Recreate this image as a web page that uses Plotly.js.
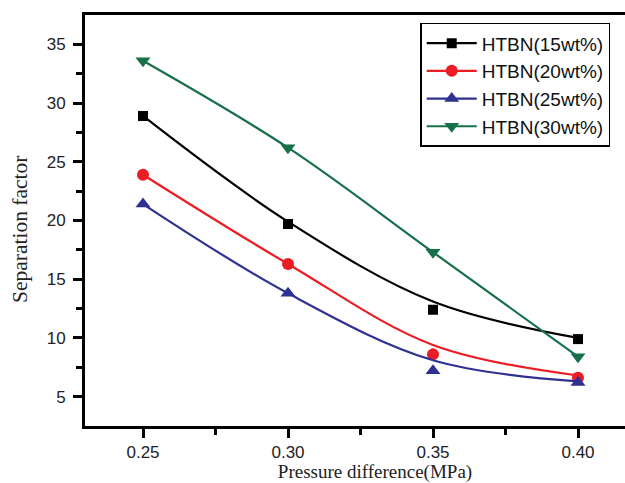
<!DOCTYPE html>
<html>
<head>
<meta charset="utf-8">
<script src="https://cdn.plot.ly/plotly-3.0.1.min.js"></script>
<style>
html,body{margin:0;padding:0;overflow:hidden;background:#fff;}
#chart{width:675px;height:483px;}
</style>
</head>
<body>
<div id="chart"></div>
<script>
// Pressure difference (MPa)
var pressure = [0.25, 0.30, 0.35, 0.40];
// Measured separation factor
var htbn15 = [28.9, 19.7, 12.4, 9.9];
var htbn20 = [23.9, 16.3, 8.6, 6.6];
var htbn25 = [21.4, 13.8, 7.2, 6.2];
var htbn30 = [33.6, 26.2, 17.3, 8.4];
// Fitted curve values
var fit15 = [28.9, 19.9, 13.1, 10.0];
var fit20 = [23.9, 16.3, 9.4, 6.8];
var fit25 = [21.4, 13.8, 8.1, 6.3];
var names = ['HTBN(15wt%)', 'HTBN(20wt%)', 'HTBN(25wt%)', 'HTBN(30wt%)'];
var xTicks = [0.25, 0.30, 0.35, 0.40];
var xTickText = ['0.25', '0.30', '0.35', '0.40'];
var yTicks = [5, 10, 15, 20, 25, 30, 35];

var colors = ['#000000', '#ec1c24', '#2e3192', '#17704a'];
var symbols = ['square', 'circle', 'triangle-up', 'triangle-down'];
var sizes = [10, 12, 13, 13];

var traces = [];
var meas = [htbn15, htbn20, htbn25];
var fits = [fit15, fit20, fit25];
for (var i = 0; i < 3; i++) {
  traces.push({x: pressure, y: fits[i], mode: 'lines', line: {color: colors[i], width: 2.2, shape: 'spline'}, showlegend: false, hoverinfo: 'skip'});
  traces.push({x: pressure, y: meas[i], mode: 'markers', marker: {color: colors[i], symbol: symbols[i], size: sizes[i]}, showlegend: false});
}
traces.push({x: pressure, y: htbn30, mode: 'lines+markers', line: {color: colors[3], width: 2.2, shape: 'spline'}, marker: {color: colors[3], symbol: symbols[3], size: sizes[3]}, showlegend: false});
// legend entries
for (var j = 0; j < 4; j++) {
  traces.push({x: [null], y: [null], name: names[j], mode: 'lines+markers', line: {color: colors[j], width: 2.2}, marker: {color: colors[j], symbol: symbols[j], size: sizes[j]}});
}

var layout = {
  width: 675, height: 483,
  margin: {l: 85, r: 10, t: 15, b: 57},
  paper_bgcolor: '#fff', plot_bgcolor: '#fff',
  font: {family: 'Liberation Sans, Arial, sans-serif', color: '#222'},
  xaxis: {
    range: [0.23, 0.43], tickvals: xTicks, ticktext: xTickText,
    showgrid: false, zeroline: false, showline: true, mirror: true,
    linecolor: '#000', linewidth: 3, ticks: 'outside', ticklen: 9, tickwidth: 3, tickcolor: '#000',
    minor: {tickvals: [0.275, 0.325, 0.375], ticks: 'outside', ticklen: 6, tickwidth: 3, tickcolor: '#000', showgrid: false},
    tickfont: {size: 17, color: '#222'},
    title: {text: 'Pressure difference(MPa)', font: {family: 'Liberation Serif, Times New Roman, serif', size: 19, color: '#222'}, standoff: 6}
  },
  yaxis: {
    range: [2.5, 37.5], tickvals: yTicks,
    showgrid: false, zeroline: false, showline: true, mirror: true,
    linecolor: '#000', linewidth: 3, ticks: 'outside', ticklen: 9, tickwidth: 3, tickcolor: '#000',
    minor: {tickvals: [7.5, 12.5, 17.5, 22.5, 27.5, 32.5], ticks: 'outside', ticklen: 6, tickwidth: 3, tickcolor: '#000', showgrid: false},
    tickfont: {size: 17, color: '#222'},
    ticklabelstandoff: 4
  },
  annotations: [{
    text: 'Separation factor', textangle: -90, showarrow: false,
    xref: 'paper', yref: 'paper', x: -0.112, y: 0.477, xanchor: 'center', yanchor: 'middle',
    font: {family: 'Liberation Serif, Times New Roman, serif', size: 21.5, color: '#222'}
  }],
  legend: {
    x: 0.578, y: 0.981, xanchor: 'left', yanchor: 'top',
    bgcolor: '#fff', bordercolor: '#000', borderwidth: 1.5,
    font: {size: 19, color: '#111'}, tracegroupgap: 0, itemwidth: 50
  },
  showlegend: true
};
Plotly.newPlot('chart', traces, layout, {displayModeBar: false, staticPlot: true});
</script>
</body>
</html>
